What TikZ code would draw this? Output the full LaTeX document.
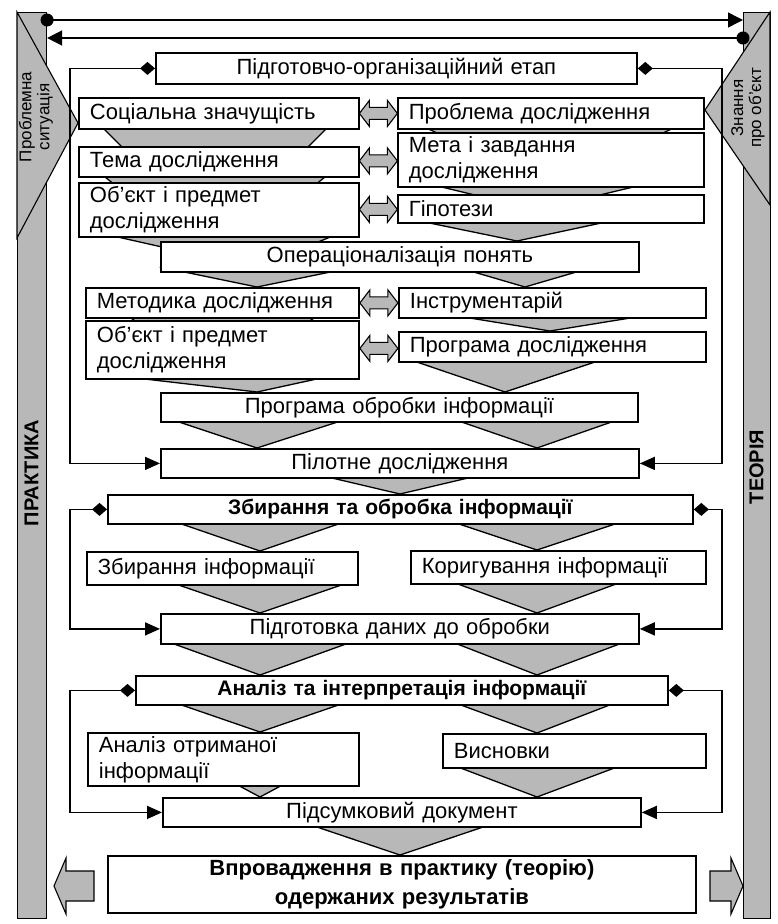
\documentclass[tikz,border=0pt]{standalone}
\usepackage{fontspec}
\setmainfont{Liberation Sans}
\usetikzlibrary{arrows.meta,calc}
\definecolor{halftone}{gray}{0.72}
\newcommand\mf{\fontsize{22}{26}\selectfont}
\newcommand\bmf{\fontsize{21}{25}\selectfont\bfseries}
\newcommand\fmf{\fontsize{22}{29}\selectfont\bfseries}
\newcommand\smallf{\fontsize{17}{18}\selectfont}
\newcommand\barf{\fontsize{20}{22}\selectfont\bfseries}
\newcommand\funnel[5]{\draw[funnel] (#1,#3-3) -- (#2,#3-3) -- (#4,#5) -- cycle;}
\begin{document}
\begin{tikzpicture}[x=1pt,y=-1pt,
  box/.style={draw, fill=white, line width=1.8pt, inner xsep=11pt, inner ysep=0pt, anchor=north west, font=\mf},
  lbox/.style={box, align=left},
  cbox/.style={box, align=center},
  funnel/.style={fill=halftone, draw=black, line width=1.3pt},
  bar/.style={fill=halftone, draw=black, line width=1.1pt},
  link/.style={line width=1.5pt, {Diamond[length=15pt,width=13pt]}-{Triangle[length=15pt,width=13pt]}},
  topline/.style={line width=1.5pt},
  dbl/.pic={\draw[fill=halftone, line width=1.1pt, line join=miter] (-19,0) -- (-9,-13) -- (-9,-6) -- (9,-6) -- (9,-13) -- (19,0) -- (9,13) -- (9,6) -- (-9,6) -- (-9,13) -- cycle;},
]
\useasboundingbox (0,0) rectangle (778,924);

% side bars
\node[bar, anchor=north west, minimum width=29pt, minimum height=906pt, inner sep=0pt] (PB) at (17,12) {};
\node[bar, anchor=north west, minimum width=27pt, minimum height=906pt, inner sep=0pt] (TB) at (743,12) {};
\draw[bar, line join=miter] (17,12) -- (78,123) -- (17,238) -- cycle;
\draw[bar, line join=miter] (770,12) -- (705,110) -- (770,205) -- cycle;
\node[rotate=90, align=center, font=\smallf] (ps) at (36,117) {Проблемна\\ситуація};
\node[rotate=90, align=center, font=\smallf] (zo) at (748,108) {Знання\\про об’єкт};
\node[rotate=90, font=\barf] (pr) at (31.5,473) {ПРАКТИКА};
\node[rotate=90, font=\barf] (te) at (756.5,467) {ТЕОРІЯ};

% funnels
\funnel{100}{330}{128}{215}{240}
\funnel{420}{680}{128}{550}{186}
\funnel{100}{330}{176}{215}{265}
\funnel{425}{650}{186}{537}{210}
\funnel{100}{340}{236}{255}{268}
\funnel{410}{620}{222}{517}{241}
\funnel{165}{350}{271}{257}{287}
\funnel{460}{590}{271}{525}{287}
\funnel{125}{320}{317}{222}{380}
\funnel{445}{655}{317}{550}{331}
\funnel{110}{335}{378}{257}{392}
\funnel{405}{607}{361}{505}{392}
\funnel{167}{350}{421}{257}{448}
\funnel{450}{623}{421}{537}{448}
\funnel{315}{485}{477}{400}{494}
\funnel{170}{350}{523}{260}{551}
\funnel{447}{627}{523}{537}{550}
\funnel{167}{353}{584}{260}{613}
\funnel{447}{627}{583}{537}{613}
\funnel{163}{357}{643}{260}{675}
\funnel{447}{630}{643}{537}{675}
\funnel{170}{350}{704}{260}{732}
\funnel{450}{620}{704}{537}{733}
\funnel{232}{288}{785}{260}{797}
\funnel{450}{625}{767}{537}{797}
\funnel{305}{495}{826}{400}{855}

% boxes
\node[cbox, text width=459pt, minimum height=31pt] (B0) at (155,52) {Підготовчо-організаційний етап};
\node[lbox, text width=258pt, minimum height=31pt] (L1) at (78,97) {Соціальна значущість};
\node[lbox, text width=284pt, minimum height=31pt] (R1) at (397,97) {Проблема дослідження};
\node[lbox, text width=258pt, minimum height=30pt] (L2) at (78,146) {Тема дослідження};
\node[lbox, text width=284pt, minimum height=54pt] (R2) at (397,132) {Мета і завдання\\дослідження};
\node[lbox, text width=258pt, minimum height=54pt] (L3) at (78,182) {Об’єкт і предмет\\дослідження};
\node[lbox, text width=284pt, minimum height=28pt] (R3) at (397,194) {Гіпотези};
\node[cbox, text width=456pt, minimum height=30pt] (O) at (160,241) {Операціоналізація понять};
\node[lbox, text width=251pt, minimum height=30pt] (L4) at (85,287) {Методика дослідження};
\node[lbox, text width=285pt, minimum height=30pt] (R4) at (398,287) {Інструментарій};
\node[lbox, text width=251pt, minimum height=58pt] (L5) at (85,320) {Об’єкт і предмет\\дослідження};
\node[lbox, text width=285pt, minimum height=30pt] (R5) at (398,331) {Програма дослідження};
\node[cbox, text width=455pt, minimum height=29pt] (P) at (160,392) {Програма обробки інформації};
\node[cbox, text width=456pt, minimum height=29pt] (Pi) at (160,448) {Пілотне дослідження};
\node[cbox, text width=563pt, minimum height=29pt, font=\bmf] (Z) at (107,494) {Збирання та обробка інформації};
\node[lbox, text width=249pt, minimum height=33pt] (L6) at (86,551) {Збирання інформації};
\node[lbox, text width=273pt, minimum height=33pt] (R6) at (410,550) {Коригування інформації};
\node[cbox, text width=456pt, minimum height=30pt] (Pd) at (160,613) {Підготовка даних до обробки};
\node[cbox, text width=510pt, minimum height=29pt, font=\bmf] (A) at (135,675) {Аналіз та інтерпретація інформації};
\node[lbox, text width=249pt, minimum height=53pt] (L7) at (87,732) {Аналіз отриманої\\інформації};
\node[lbox, text width=241pt, minimum height=34pt] (R7) at (442,733) {Висновки};
\node[cbox, text width=456pt, minimum height=29pt] (S) at (162,797) {Підсумковий документ};
\node[cbox, text width=566pt, minimum height=57pt, font=\fmf] (F) at (107,855) {Впровадження в практику (теорію)\\одержаних результатів};

% double arrows between paired boxes
\pic at ($(L1.east)!0.5!(R1.west)$) {dbl};
\pic at ($(L2.east)!0.5!(R2.west)$) {dbl};
\pic at ($(L3.east)!0.5!(R3.west)$) {dbl};
\pic at ($(L4.east)!0.5!(R4.west)$) {dbl};
\pic at ($(L5.east)!0.5!(R5.west)$) {dbl};

% big output arrows
\draw[fill=halftone, line width=1.1pt, line join=miter] (54,886) -- (66,858) -- (66,871) -- (94,871) -- (94,901) -- (66,901) -- (66,914) -- cycle;
\draw[fill=halftone, line width=1.1pt, line join=miter] (743,886) -- (731,858) -- (731,871) -- (710,871) -- (710,901) -- (731,901) -- (731,914) -- cycle;

% feedback loops
\coordinate (lx) at (70,0);
\coordinate (rx) at (722,0);
\draw[link] (B0.west) -- (B0.west -| lx) |- (Pi.west);
\draw[link] (B0.east) -- (B0.east -| rx) |- (Pi.east);
\draw[link] (Z.west) -- (Z.west -| lx) |- (Pd.west);
\draw[link] (Z.east) -- (Z.east -| rx) |- (Pd.east);
\draw[link] (A.west) -- (A.west -| lx) |- (S.west);
\draw[link] (A.east) -- (A.east -| rx) |- (S.east);

% top lines between practice and theory
\coordinate (ya) at (0,20);
\coordinate (yb) at (0,38);
\draw[topline, {Circle[length=13pt]}-{Triangle[length=15pt,width=15pt]}, shorten <=-6.5pt] (PB.east |- ya) -- (TB.west |- ya);
\draw[topline, {Circle[length=13pt]}-{Triangle[length=15pt,width=15pt]}, shorten <=-6.5pt] (TB.west |- yb) -- (PB.east |- yb);
\end{tikzpicture}
\end{document}
